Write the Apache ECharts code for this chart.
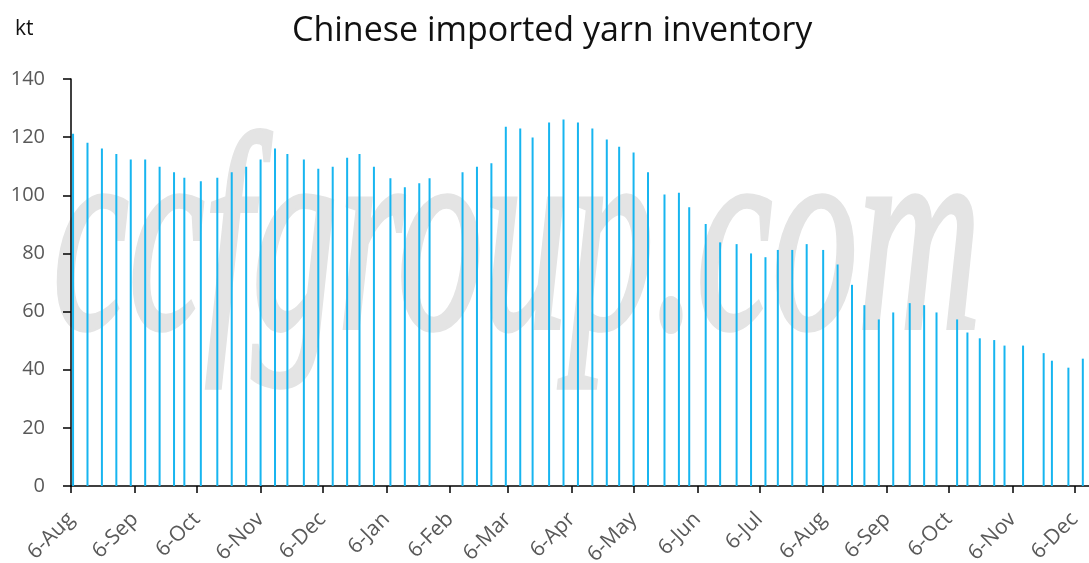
<!DOCTYPE html>
<html style="height: 100%">
<head>
  <meta charset="utf-8">
</head>
<body style="height: 100%; margin: 0; background: #fff">
  <div id="container" style="width: 1089px; height: 563px"></div>
  <script src="https://cdn.jsdelivr.net/npm/echarts@6/dist/echarts.min.js"></script>
  <script>
    var dates = [
      '2018-08-07', '2018-08-14', '2018-08-21', '2018-08-28', '2018-09-04', '2018-09-11',
      '2018-09-18', '2018-09-25', '2018-09-30', '2018-10-08', '2018-10-16', '2018-10-23',
      '2018-10-30', '2018-11-06', '2018-11-13', '2018-11-19', '2018-11-27', '2018-12-04',
      '2018-12-11', '2018-12-18', '2018-12-24', '2018-12-31', '2019-01-08', '2019-01-15',
      '2019-01-22', '2019-01-27', '2019-02-12', '2019-02-19', '2019-02-26', '2019-03-05',
      '2019-03-12', '2019-03-18', '2019-03-26', '2019-04-02', '2019-04-09', '2019-04-16',
      '2019-04-23', '2019-04-29', '2019-05-06', '2019-05-13', '2019-05-21', '2019-05-28',
      '2019-06-02', '2019-06-10', '2019-06-17', '2019-06-25', '2019-07-02', '2019-07-09',
      '2019-07-15', '2019-07-22', '2019-07-29', '2019-08-06', '2019-08-13', '2019-08-20',
      '2019-08-26', '2019-09-02', '2019-09-09', '2019-09-17', '2019-09-24', '2019-09-30',
      '2019-10-10', '2019-10-15', '2019-10-21', '2019-10-28', '2019-11-02', '2019-11-11',
      '2019-11-21', '2019-11-25', '2019-12-03', '2019-12-10'
    ];
    // inventory, kt
    var inventory = [
      121.2, 118.1, 116.1, 114.2, 112.3, 112.3,
      109.8, 107.9, 106.0, 104.8, 106.0, 107.9,
      109.8, 112.3, 116.1, 114.2, 112.3, 109.1,
      109.8, 112.9, 114.2, 109.8, 105.9, 102.8,
      104.1, 105.9, 107.9, 109.8, 111.0, 123.6,
      123.0, 119.9, 125.0, 126.1, 125.0, 123.0,
      119.2, 116.7, 114.7, 107.9, 100.3, 100.9,
      95.9, 90.1, 83.8, 83.2, 80.0, 78.7,
      81.2, 81.2, 83.2, 81.2, 76.2, 69.2,
      62.2, 57.3, 59.7, 62.9, 62.2, 59.7,
      57.3, 52.8, 50.8, 50.2, 48.3, 48.3,
      45.7, 43.1, 40.7, 43.8
    ];
    // month ticks on the 6th
    var tickDates = [
      '2018-08-06', '2018-09-06', '2018-10-06', '2018-11-06', '2018-12-06', '2019-01-06',
      '2019-02-06', '2019-03-06', '2019-04-06', '2019-05-06', '2019-06-06', '2019-07-06',
      '2019-08-06', '2019-09-06', '2019-10-06', '2019-11-06', '2019-12-06'
    ];
    var monthNames = ['Jan', 'Feb', 'Mar', 'Apr', 'May', 'Jun', 'Jul', 'Aug', 'Sep', 'Oct', 'Nov', 'Dec'];

    function toTime(s) {
      var p = s.split('-');
      return new Date(+p[0], +p[1] - 1, +p[2]).getTime();
    }

    var chart = echarts.init(document.getElementById('container'), null, { renderer: 'canvas' });
    var tickTimes = tickDates.map(toTime);

    var option = {
      animation: false,
      title: {
        text: 'Chinese imported yarn inventory',
        left: 287,
        top: 9,
        textStyle: { fontFamily: 'Open Sans', fontSize: 34, fontWeight: 'normal', color: '#111' }
      },
      graphic: [
        {
          // watermark
          type: 'text',
          z: -10,
          silent: true,
          x: 53,
          y: 394,
          scaleX: 0.61,
          style: {
            text: 'ccfgroup.com',
            font: 'italic 280px "Liberation Serif"',
            fill: '#e4e4e4',
            stroke: '#e4e4e4',
            lineWidth: 5,
            align: 'left',
            verticalAlign: 'bottom'
          }
        },
        {
          type: 'text',
          left: 15,
          top: 19,
          style: { text: 'kt', font: '21px "Open Sans"', fill: '#111' }
        }
      ],
      grid: { left: 71, right: 0, top: 79, bottom: 77, outerBoundsMode: 'none', containLabel: false },
      xAxis: {
        type: 'value',
        min: toTime('2018-08-06'),
        max: toTime('2019-12-13'),
        axisLine: { lineStyle: { color: '#000', width: 1.5 } },
        axisTick: { show: true, customValues: tickTimes, length: 7, lineStyle: { color: '#000', width: 1.5 } },
        splitLine: { show: false },
        axisLabel: {
          customValues: tickTimes,
          rotate: 45,
          margin: 30,
          fontFamily: 'Open Sans',
          fontSize: 21,
          color: '#595959',
          formatter: function (v) {
            var d = new Date(v);
            return d.getDate() + '-' + monthNames[d.getMonth()];
          }
        }
      },
      yAxis: {
        type: 'value',
        min: 0,
        max: 140,
        interval: 20,
        axisLine: { show: true, lineStyle: { color: '#000', width: 1.5 } },
        axisTick: { show: true, length: 8, lineStyle: { color: '#000', width: 1.5 } },
        splitLine: { show: false },
        axisLabel: { margin: 26, fontFamily: 'Open Sans', fontSize: 20, color: '#595959' }
      },
      series: [
        {
          type: 'bar',
          barWidth: 2,
          itemStyle: { color: '#17b5f0' },
          data: dates.map(function (d, i) { return [toTime(d), inventory[i]]; })
        }
      ]
    };
    chart.setOption(option);
  </script>
</body>
</html>
